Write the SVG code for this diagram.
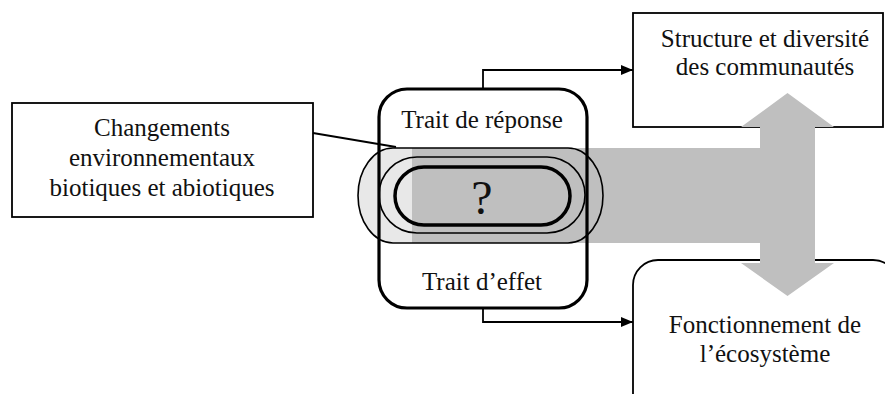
<svg xmlns="http://www.w3.org/2000/svg" width="885" height="394" viewBox="0 0 885 394">
  <defs>
    <style>
      text { font-family: "Liberation Serif", "Times New Roman", serif; font-size: 25px; fill: #111; text-anchor: middle; }
      .box { fill: #fff; stroke: #000; stroke-width: 1.8; }
      .thin { fill: none; stroke: #000; stroke-width: 1.6; }
      .thick { fill: none; stroke: #000; stroke-width: 3.5; }
      .conn { fill: none; stroke: #000; stroke-width: 1.8; }
      .band { fill: #bfbfbf; }
    </style>
    <marker id="arr" viewBox="0 0 12 10" refX="12" refY="5" markerWidth="12" markerHeight="10" markerUnits="userSpaceOnUse" orient="auto">
      <path d="M0,0 L12,5 L0,10 Z" fill="#000"/>
    </marker>
  </defs>

  <g id="structure">
    <rect class="box" x="633" y="13" width="250" height="114"/>
    <text x="765" y="47">Structure et diversité</text>
    <text x="765" y="75">des communautés</text>
  </g>

  <g id="fonctionnement">
    <rect class="box" x="633" y="260" width="265" height="170" rx="25" ry="25"/>
    <text x="765" y="333">Fonctionnement de</text>
    <text x="765" y="362">l’écosystème</text>
  </g>

  <g id="flux">
    <rect x="358" y="148" width="245" height="95" rx="35" ry="47.5" fill="#e8e8e8"/>
    <rect class="band" x="412" y="148" width="350" height="95"/>
    <polygon class="band" points="787.5,93 834,127 815,127 815,263 834,263 787.5,296 741,263 760,263 760,127 741,127"/>
  </g>

  <g id="changements">
    <rect class="box" x="12" y="103" width="301" height="114"/>
    <text x="162" y="136">Changements</text>
    <text x="162" y="166">environnementaux</text>
    <text x="162" y="196">biotiques et abiotiques</text>
  </g>

  <g id="traits">
    <rect class="thin" x="358" y="148" width="245" height="95" rx="35" ry="47.5"/>
    <rect class="thin" x="379" y="157" width="206" height="76" rx="38" ry="38"/>
    <rect class="thick" x="395" y="167" width="175" height="58" rx="29" ry="29"/>
    <text x="482" y="214" style="font-size:48px">?</text>
    <rect class="thick" x="379" y="89" width="208" height="219" rx="28" ry="28" style="stroke-width:3.2"/>
    <text x="482" y="128">Trait de réponse</text>
    <text x="482" y="290">Trait d’effet</text>
  </g>

  <g id="connectors">
    <line class="conn" x1="313" y1="133" x2="396" y2="147"/>
    <polyline class="conn" points="483,89 483,70 633,70" marker-end="url(#arr)"/>
    <polyline class="conn" points="483,308 483,322 633,322" marker-end="url(#arr)"/>
  </g>
</svg>
